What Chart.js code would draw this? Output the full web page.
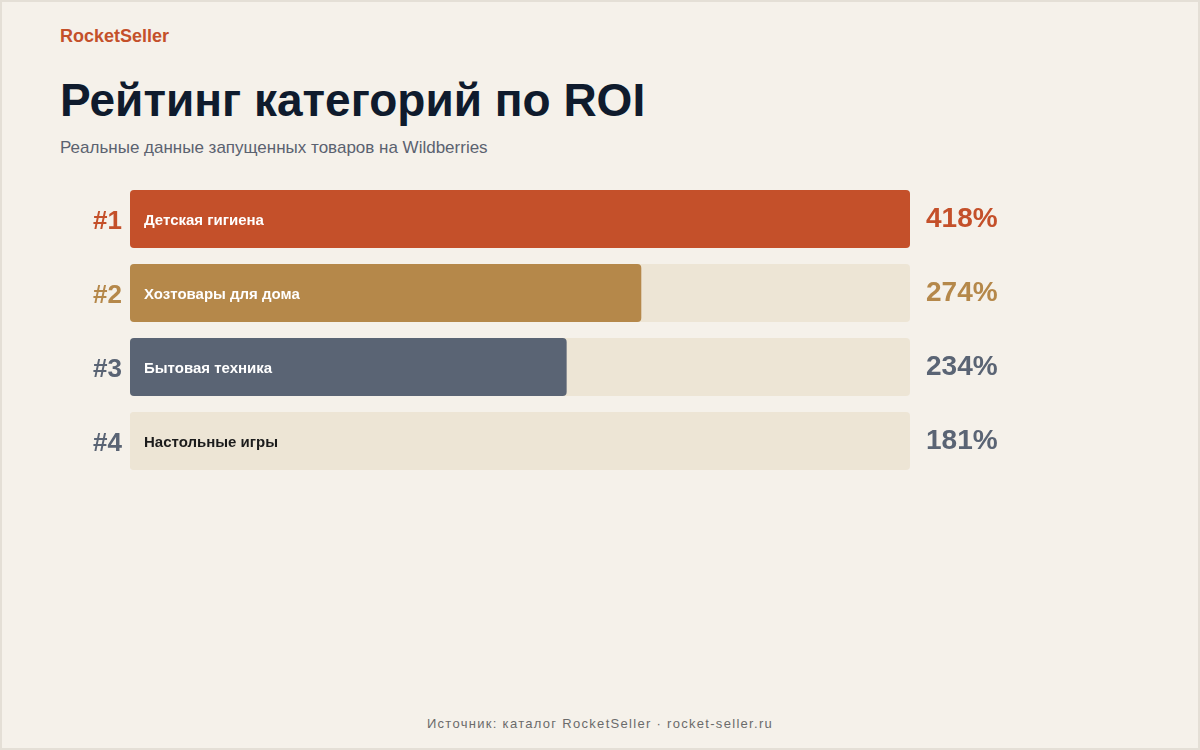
<!DOCTYPE html>
<html lang="ru">
<head>
<meta charset="utf-8">
<script src="https://cdn.jsdelivr.net/npm/chart.js@4"></script>
<style>
  html, body { margin: 0; padding: 0; }
  body {
    width: 1200px; height: 750px; overflow: hidden;
    background: #f5f1ea;
    font-family: "Liberation Sans", Arial, sans-serif;
  }
  .page {
    position: relative; width: 1200px; height: 750px;
    box-sizing: border-box; border: 2px solid #e4dfd6;
  }
  .brand {
    position: absolute; left: 58px; top: 24px;
    font-size: 18px; font-weight: bold; color: #c4502a;
  }
  h1 {
    position: absolute; left: 58px; top: 71px; margin: 0;
    font-size: 46px; font-weight: bold; color: #0f1b2d;
  }
  .sub {
    position: absolute; left: 58px; top: 136px;
    font-size: 17px; color: #5b6270;
  }
  .foot {
    position: absolute; left: 0; right: 0; top: 714px; text-align: center;
    font-size: 13px; letter-spacing: 1.3px; color: #6b6b6b;
  }
  canvas { position: absolute; left: 0; top: 0; }
</style>
</head>
<body>
<div class="page">
  <div class="brand">RocketSeller</div>
  <h1>Рейтинг категорий по ROI</h1>
  <div class="sub">Реальные данные запущенных товаров на Wildberries</div>
  <div class="foot">Источник: каталог RocketSeller · rocket-seller.ru</div>
</div>
<canvas id="c" width="1200" height="750"></canvas>
<script>
const categories = ['Детская гигиена', 'Хозтовары для дома', 'Бытовая техника', 'Настольные игры'];
const ranks = ['#1', '#2', '#3', '#4'];
const roi = [418, 274, 234, 181];
const barColors = ['#c4502a', '#b5884a', '#5a6474', '#ede5d5'];
const textColors = ['#c4502a', '#b5884a', '#5a6474', '#5a6474'];
const innerColors = ['#ffffff', '#ffffff', '#ffffff', '#1c1c1c'];
const maxRoi = Math.max(...roi);
const track = roi.map(() => maxRoi);

const labelsPlugin = {
  id: 'rowLabels',
  afterDatasetsDraw(chart) {
    const ctx = chart.ctx;
    const meta = chart.getDatasetMeta(0);
    const x0 = chart.scales.x.getPixelForValue(0);
    const xMax = chart.scales.x.getPixelForValue(maxRoi);
    ctx.save();
    ctx.textBaseline = 'middle';
    meta.data.forEach((bar, i) => {
      const y = bar.y;
      ctx.font = 'bold 26px "Liberation Sans", Arial, sans-serif';
      ctx.fillStyle = textColors[i];
      ctx.textAlign = 'right';
      ctx.fillText(ranks[i], x0 - 8, y + 3);

      ctx.font = 'bold 15px "Liberation Sans", Arial, sans-serif';
      ctx.fillStyle = innerColors[i];
      ctx.textAlign = 'left';
      ctx.fillText(categories[i], x0 + 14, y + 2);

      ctx.font = 'bold 28px "Liberation Sans", Arial, sans-serif';
      ctx.fillStyle = textColors[i];
      ctx.fillText(roi[i] + '%', xMax + 16, y);
    });
    ctx.restore();
  }
};

new Chart(document.getElementById('c'), {
  type: 'bar',
  data: {
    labels: categories,
    datasets: [
      {
        data: roi,
        backgroundColor: barColors,
        borderRadius: 4,
        borderSkipped: false,
        grouped: false,
        order: 0,
        barPercentage: 58 / 74,
        categoryPercentage: 1
      },
      {
        data: track,
        backgroundColor: '#ede5d5',
        borderRadius: 4,
        borderSkipped: false,
        grouped: false,
        order: 1,
        barPercentage: 58 / 74,
        categoryPercentage: 1
      }
    ]
  },
  options: {
    indexAxis: 'y',
    responsive: false,
    animation: false,
    devicePixelRatio: 1,
    layout: { padding: { left: 130, right: 290, top: 182, bottom: 272 } },
    scales: {
      x: { display: false, min: 0, max: maxRoi },
      y: { display: false }
    },
    plugins: { legend: { display: false }, tooltip: { enabled: false } }
  },
  plugins: [labelsPlugin]
});
</script>
</body>
</html>
